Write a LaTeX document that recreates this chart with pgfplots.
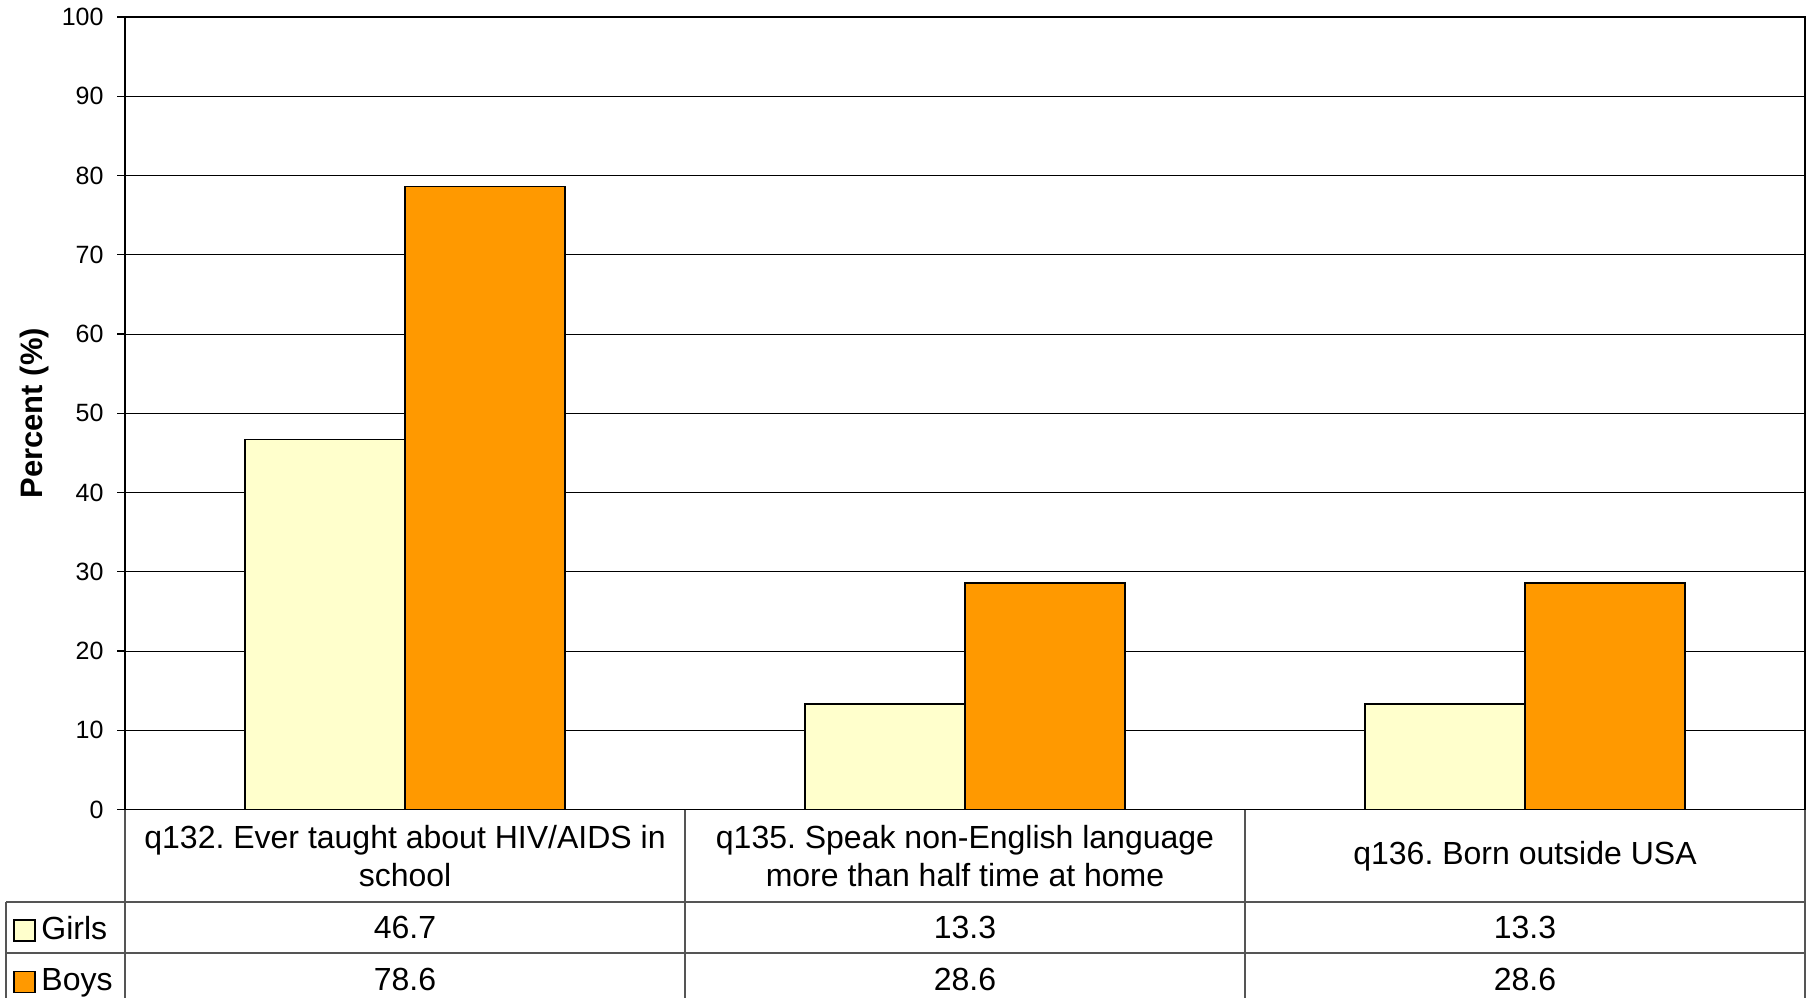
\documentclass[border=0pt]{standalone}
\usepackage{pgfplots}
\pgfplotsset{compat=1.18}
\usepackage{fontspec}
\setmainfont{Liberation Sans}
\frenchspacing
\definecolor{girls}{HTML}{FFFFCC}
\definecolor{boys}{HTML}{FF9900}
\definecolor{tabline}{HTML}{555555}
\begin{document}
\begin{tikzpicture}[x=1pt,y=1pt]
\useasboundingbox (0,0) rectangle (906.5,499);
\begin{axis}[
  at={(62.5pt,94.25pt)}, anchor=south west,
  scale only axis, width=840pt, height=396.25pt,
  xmin=-0.5, xmax=2.5, ymin=0, ymax=100,
  ybar=0pt, bar width=80pt,
  xtick=\empty,
  ytick={0,10,...,100},
  ymajorgrids, grid style={black, line width=0.5pt},
  axis line style={black, line width=0.8pt},
  tick style={black, line width=0.6pt},
  major tick length=4pt,
  ytick pos=left, tick align=outside,
  /pgf/number format/assume math mode=true,
  yticklabel style={font=\fontsize{12.5}{15}\selectfont, xshift=-3.2pt},
  ylabel={\textbf{Percent (\%)}},
  ylabel style={font=\fontsize{15.5}{18}\selectfont, at={(axis description cs:-0.0536,0.5)}, anchor=center},
  clip=false,
  legend style={at={(axis description cs:-0.0669,-0.1331)}, anchor=north west, draw=none, fill=none, inner sep=0pt,
    font=\fontsize{16}{19}\selectfont, row sep=10.25pt,
    nodes={inner sep=0pt, text height=12pt, text depth=3.5pt}},
  legend cell align=left,
]
\addplot[fill=girls, draw=black, line width=0.8pt,
  legend image code/.code={\draw[fill=girls,draw=black,line width=0.8pt] (0pt,-5pt) rectangle (10.5pt,5.5pt); \path[draw=none,fill=none] (0pt,0pt) rectangle (13.8pt,0.1pt);}]
  coordinates {(0,46.7) (1,13.3) (2,13.3)};
\addlegendentry{Girls}
\addplot[fill=boys, draw=black, line width=0.8pt,
  legend image code/.code={\draw[fill=boys,draw=black,line width=0.8pt] (0pt,-5pt) rectangle (10.5pt,5.5pt); \path[draw=none,fill=none] (0pt,0pt) rectangle (13.8pt,0.1pt);}]
  coordinates {(0,78.6) (1,28.6) (2,28.6)};
\addlegendentry{Boys}
\end{axis}
% table grid
\begin{scope}[tabline, line width=0.6pt]
\draw (3,48) -- (902.5,48);
\draw (3,22.5) -- (902.5,22.5);
\draw (3,48) -- (3,0);
\draw (62.5,94.25) -- (62.5,0);
\draw (342.5,94.25) -- (342.5,0);
\draw (622.5,94.25) -- (622.5,0);
\draw (902.5,94.25) -- (902.5,0);
\end{scope}
\begin{scope}[every node/.style={font=\fontsize{16}{19}\selectfont, align=center, inner sep=0pt}]
\node at (202.5,71.1) {q132. Ever taught about HIV/AIDS in\\school};
\node at (482.5,71.1) {q135. Speak non-English language\\more than half time at home};
\node at (762.5,71.1) {q136. Born outside USA};
\node at (202.5,35.25) {46.7};
\node at (482.5,35.25) {13.3};
\node at (762.5,35.25) {13.3};
\node at (202.5,9.5) {78.6};
\node at (482.5,9.5) {28.6};
\node at (762.5,9.5) {28.6};
\end{scope}
\end{tikzpicture}
\end{document}
